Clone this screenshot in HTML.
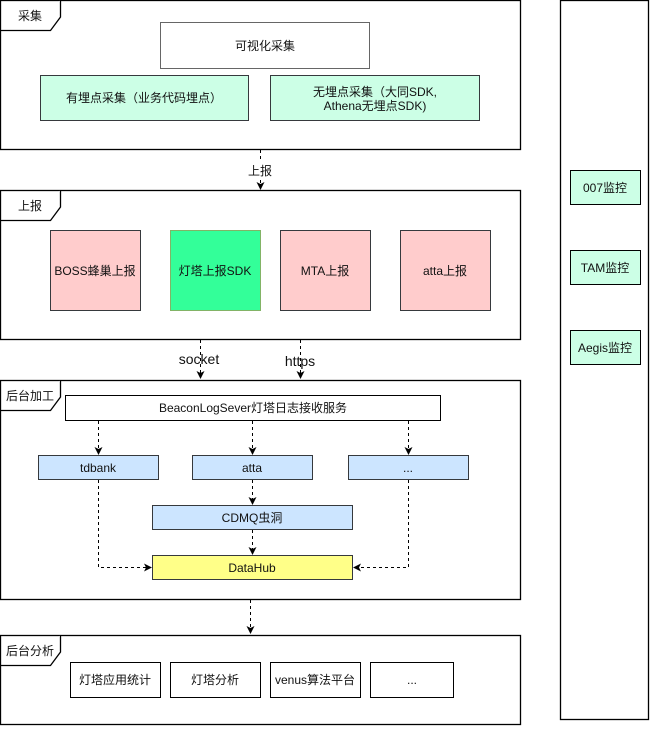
<!DOCTYPE html>
<html><head><meta charset="utf-8"><style>
html,body{margin:0;padding:0;background:#fff;}
svg text{font-family:"Liberation Sans","Noto Sans CJK SC",sans-serif;font-size:12px;fill:#111;}
</style></head><body>
<svg width="651" height="727" viewBox="0 0 651 727" xmlns="http://www.w3.org/2000/svg">
<defs>
<marker id="a" markerWidth="8" markerHeight="8" refX="7" refY="4" orient="auto" markerUnits="userSpaceOnUse">
<path d="M0,0 L8,4 L0,8 L2,4 z" fill="#000"/></marker>
</defs>
<g stroke="#000" stroke-width="1.3" fill="#fff">
<rect x="0.5" y="0.5" width="520" height="149"/>
<path d="M0.5,30.5 H50.5 L60.5,17 V0.5"/>
<rect x="0.5" y="190.5" width="520" height="149"/>
<path d="M0.5,220.5 H50.5 L60.5,207 V190.5"/>
<rect x="0.5" y="380.5" width="520" height="219"/>
<path d="M0.5,410.5 H50.5 L60.5,397 V380.5"/>
<rect x="0.5" y="635.5" width="520" height="89"/>
<path d="M0.5,665.5 H50.5 L60.5,652 V635.5"/>
<rect x="560.5" y="0.5" width="88" height="719"/>
</g>
<text x="18" y="20">采集</text>
<text x="18" y="210">上报</text>
<text x="6" y="400">后台加工</text>
<text x="6" y="655">后台分析</text>
<g stroke-width="1">
<rect x="160.5" y="22.5" width="209" height="46" fill="#fff" stroke="#666"/>
<rect x="40.5" y="75.5" width="208" height="45" fill="#ccffe6" stroke="#36393d"/>
<rect x="270.5" y="75.5" width="209" height="45" fill="#ccffe6" stroke="#36393d"/>
<rect x="50.5" y="230.5" width="90" height="80" fill="#ffcccc" stroke="#36393d"/>
<rect x="170.5" y="230.5" width="90" height="80" fill="#33ff99" stroke="#82b366"/>
<rect x="280.5" y="230.5" width="90" height="80" fill="#ffcccc" stroke="#36393d"/>
<rect x="400.5" y="230.5" width="90" height="80" fill="#ffcccc" stroke="#36393d"/>
<rect x="65.5" y="395.5" width="375" height="25" fill="#fff" stroke="#000"/>
<rect x="38.5" y="455.5" width="120" height="24" fill="#cce5ff" stroke="#36393d"/>
<rect x="192.5" y="455.5" width="120" height="24" fill="#cce5ff" stroke="#36393d"/>
<rect x="348.5" y="455.5" width="120" height="24" fill="#cce5ff" stroke="#36393d"/>
<rect x="152.5" y="505.5" width="200" height="24" fill="#cce5ff" stroke="#36393d"/>
<rect x="152.5" y="555.5" width="200" height="24" fill="#ffff88" stroke="#36393d"/>
<rect x="70.5" y="662.5" width="90" height="35" fill="#fff" stroke="#000"/>
<rect x="170.5" y="662.5" width="90" height="35" fill="#fff" stroke="#000"/>
<rect x="270.5" y="662.5" width="90" height="35" fill="#fff" stroke="#000"/>
<rect x="370.5" y="662.5" width="83" height="35" fill="#fff" stroke="#000"/>
<rect x="570.5" y="170.5" width="70" height="34" fill="#ccffe6" stroke="#000"/>
<rect x="570.5" y="250.5" width="70" height="34" fill="#ccffe6" stroke="#000"/>
<rect x="570.5" y="330.5" width="70" height="34" fill="#ccffe6" stroke="#000"/>
</g>
<g fill="none" stroke="#000" stroke-dasharray="3,3" marker-end="url(#a)">
<path d="M260.5,150 V189"/>
<path d="M200.5,340 V378"/>
<path d="M300.5,340 V378"/>
<path d="M98.5,421 V454"/>
<path d="M252.5,421 V454"/>
<path d="M408.5,421 V454"/>
<path d="M252.5,480 V504"/>
<path d="M252.5,530 V554"/>
<path d="M98.5,480 V567.5 H151"/>
<path d="M408.5,480 V567.5 H354"/>
<path d="M250.5,600 V633"/>
</g>
<rect x="246" y="162" width="28" height="16" fill="#fff"/>
<text x="260" y="175" text-anchor="middle">上报</text>
<text x="199" y="364" text-anchor="middle" style="font-size:14px">socket</text>
<text x="300" y="366" text-anchor="middle" style="font-size:14px">https</text>
<g text-anchor="middle">
<text x="265" y="50">可视化采集</text>
<text x="144" y="102">有埋点采集（业务代码埋点）</text>
<text x="375" y="96">无埋点采集（大同SDK,</text>
<text x="375" y="110">Athena无埋点SDK)</text>
<text x="95" y="275">BOSS蜂巢上报</text>
<text x="215" y="275">灯塔上报SDK</text>
<text x="325" y="275">MTA上报</text>
<text x="445" y="275">atta上报</text>
<text x="253" y="412">BeaconLogSever灯塔日志接收服务</text>
<text x="98" y="472">tdbank</text>
<text x="252" y="472">atta</text>
<text x="408" y="472">...</text>
<text x="252" y="522">CDMQ虫洞</text>
<text x="252" y="572">DataHub</text>
<text x="115" y="684">灯塔应用统计</text>
<text x="215" y="684">灯塔分析</text>
<text x="315" y="684">venus算法平台</text>
<text x="412" y="684">...</text>
<text x="605" y="192">007监控</text>
<text x="605" y="272">TAM监控</text>
<text x="605" y="352">Aegis监控</text>
</g>
</svg>
</body></html>
